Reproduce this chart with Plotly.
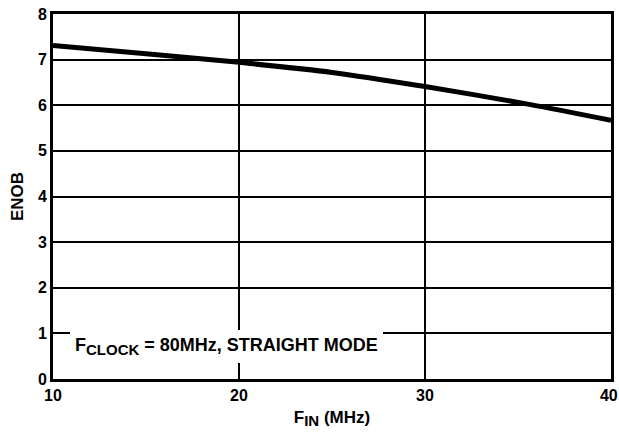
import plotly.graph_objects as go

fin_mhz = [10, 15, 20, 25, 30, 35.6, 40]
enob = [7.31, 7.13, 6.94, 6.72, 6.41, 6.02, 5.67]
x_ticks = [10, 20, 30, 40]
x_tick_text = ["<b>10</b>", "<b>20</b>", "<b>30</b>", "<b>40</b>&nbsp;"]
y_ticks = [0, 1, 2, 3, 4, 5, 6, 7, 8]
label_text = "<b>F<sub><span style='font-size:15px'>CLOCK</span></sub> = 80MHz, STRAIGHT MODE</b>"

font_family = "Liberation Sans, Arial, sans-serif"

fig = go.Figure()
fig.add_trace(go.Scatter(x=fin_mhz, y=enob, mode="lines",
                         line=dict(color="black", width=5, shape="spline", smoothing=0.8),
                         showlegend=False, hoverinfo="skip"))

fig.add_annotation(x=10.9, y=0.72, xref="x", yref="y", xanchor="left", yanchor="middle",
                   text=label_text, showarrow=False,
                   bgcolor="white", borderpad=5, borderwidth=0,
                   font=dict(family=font_family, size=18, color="black"))

fig.update_layout(
    width=619, height=432,
    margin=dict(l=53, r=8, t=14, b=53),
    paper_bgcolor="white", plot_bgcolor="white",
    font=dict(family=font_family, size=16, color="black"),
    xaxis=dict(range=[10, 40], tickvals=x_ticks, ticktext=x_tick_text,
               showgrid=True, gridcolor="black", gridwidth=2,
               showline=True, linecolor="black", linewidth=3, mirror=True,
               zeroline=False, ticks="", automargin=False, ticklabeloverflow="allow",
               tickfont=dict(family=font_family, size=16),
               title=dict(text="<b>F<sub><span style='font-size:15px'>IN</span></sub> (MHz)</b>",
                          standoff=8, font=dict(family=font_family, size=17))),
    yaxis=dict(range=[0, 8], tickvals=y_ticks, ticktext=[f"<b>{v}</b>" for v in y_ticks],
               showgrid=True, gridcolor="black", gridwidth=2,
               showline=True, linecolor="black", linewidth=3, mirror=True,
               zeroline=False, ticks="", automargin=False, ticklabeloverflow="allow",
               tickfont=dict(family=font_family, size=16),
               title=dict(text="<b>ENOB</b>", standoff=10,
                          font=dict(family=font_family, size=17))),
)

fig.write_html("out.html", config={"displayModeBar": False},
               post_script="document.body.style.margin='0px';")
